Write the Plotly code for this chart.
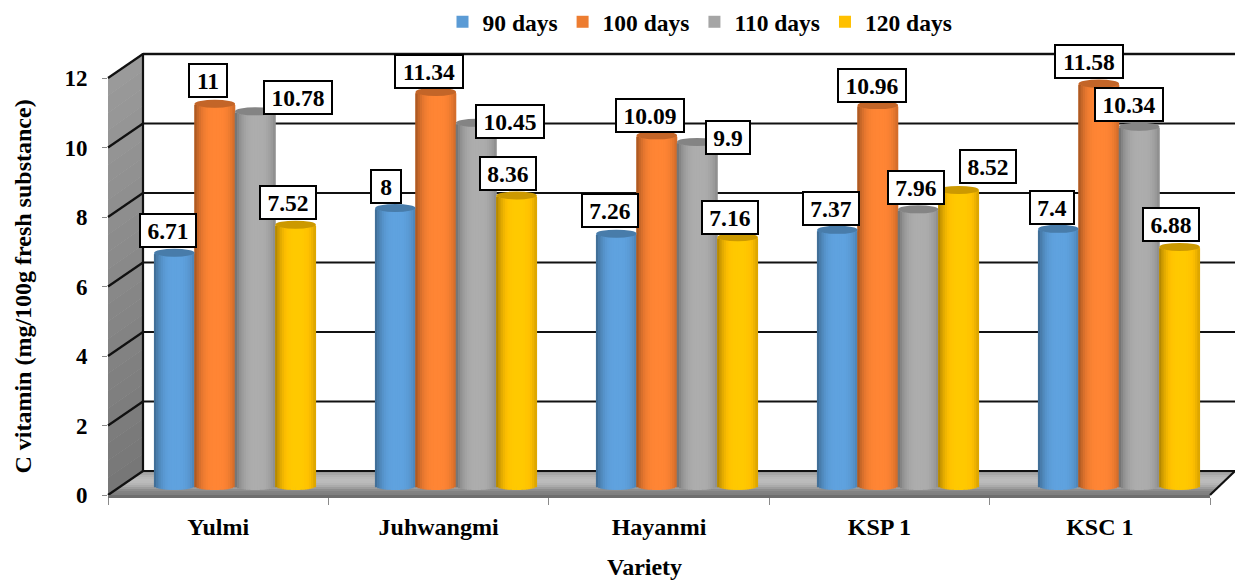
import math
import plotly.graph_objects as go

varieties = ["Yulmi", "Juhwangmi", "Hayanmi", "KSP 1", "KSC 1"]
series_names = ["90 days", "100 days", "110 days", "120 days"]
days_90 = [6.71, 8, 7.26, 7.37, 7.4]
days_100 = [11, 11.34, 10.09, 10.96, 11.58]
days_110 = [10.78, 10.45, 9.9, 7.96, 10.34]
days_120 = [7.52, 8.36, 7.16, 8.52, 6.88]
series_values = [days_90, days_100, days_110, days_120]
series_colors = ["#5B9BD5", "#F47F32", "#A5A5A5", "#FFC000"]
value_labels = [
    ["6.71", "8", "7.26", "7.37", "7.4"],
    ["11", "11.34", "10.09", "10.96", "11.58"],
    ["10.78", "10.45", "9.9", "7.96", "10.34"],
    ["7.52", "8.36", "7.16", "8.52", "6.88"],
]
label_shift_x = [
    [-6, -9, -6, -6, -6],
    [-7, -7, -7, -6, -10],
    [43, 34, 31, -2, -10],
    [-8, -9, -8, 29, -9],
]
label_shift_y = [
    [22, 21, 23, 21, 21],
    [23, 20, 20, 20, 22],
    [14, 1, 4, 22, 22],
    [22, 22, 20, 23, 22],
]
box_width_by_chars = {1: 32, 2: 40, 3: 46, 4: 58, 5: 70}
y_ticks = [0, 2, 4, 6, 8, 10, 12]

FONT = "Liberation Serif"
W, H = 1235, 580
L, T, PW, PH = 108, 78, 1127, 417
UNIT = PH / 12
BAR_W = 40.4 / 221
CAP_RY = 4.0
N_STRIPS = 18
SHIFT = 0.26


def X(px):
    return (px - L) / PW


def Y(py):
    return (T + PH - py) / PH


def shade(color, f):
    r, g, b = int(color[1:3], 16), int(color[3:5], 16), int(color[5:7], 16)
    return "rgb(%d,%d,%d)" % (min(255, r * f), min(255, g * f), min(255, b * f))


def poly(points, fill):
    path = "M" + " L".join(f"{X(a):.5f},{Y(b):.5f}" for a, b in points) + " Z"
    return dict(type="path", xref="paper", yref="paper", path=path,
                fillcolor=fill, line=dict(width=0), layer="below")


def seg(x0, y0, x1, y1, color="#111111", width=2.2):
    return dict(type="line", xref="paper", yref="paper", x0=X(x0), y0=Y(y0), x1=X(x1), y1=Y(y1),
                line=dict(color=color, width=width), layer="below")


shapes = []
# side wall
bands = 24
for b in range(bands):
    t0, t1 = b / bands, (b + 1) / bands
    g = int(154 - 36 * t0)
    col = f"rgb({g},{g},{g})"
    shapes.append(poly([(108, 78 + 417 * t0), (143, 53 + 418 * t0), (143, 53 + 418 * t1 + 0.5), (108, 78 + 417 * t1 + 0.5)], col))
# floor
bands = 12
for b in range(bands):
    t0, t1 = b / bands, (b + 1) / bands
    g = int(155 + 45 * math.sin(math.pi * min(1, t0 * 1.25)) - 30 * t0)
    col = f"rgb({g},{g},{g})"
    y0, y1 = 471 + 24 * t0, 471 + 24 * t1 + 0.5
    x_l0, x_l1 = 143 - 35 * t0, 143 - 35 * t1
    x_r0, x_r1 = 1235 - 25 * t0, 1235 - 25 * t1
    shapes.append(poly([(x_l0, y0), (x_r0, y0), (x_r1, y1), (x_l1, y1)], col))
# grid on wall and back plane
for v in y_ticks:
    fy = 495 - v * UNIT
    shapes.append(seg(108, fy, 143, fy - 24))
    shapes.append(seg(143, fy - 24, 1235, fy - 24, color="#c8c8c8" if v == 12 else "#111111", width=4 if v == 12 else 2.2))
    if v == 12:
        shapes.append(seg(143, fy - 24, 1235, fy - 24, width=2.2))
shapes.append(seg(143, 53, 143, 471))
shapes.append(seg(1210, 495, 1235, 471))

traces = [go.Scatter(x=varieties, y=[0] * 5, mode="markers", marker=dict(opacity=0),
                     showlegend=False, hoverinfo="skip", xaxis="x", yaxis="y")]

annotations = []
for i, (name, vals, color) in enumerate(zip(series_names, series_values, series_colors)):
    centers = [k + (i - 1.5) * BAR_W for k in range(5)]
    traces.append(go.Bar(x=centers, y=vals, width=BAR_W, name=name,
                         marker=dict(color=color if i != 1 else "#ED7D31", line=dict(width=0)),
                         xaxis="x2", yaxis="y2", cliponaxis=False, hoverinfo="skip"))
    for s in range(N_STRIPS):
        t = -1 + (2 * s + 1) / N_STRIPS
        u = (t - 0.1) / 1.1
        f = 0.66 + 0.39 * max(0.0, 1 - abs(u) ** 3)
        arc = CAP_RY / UNIT * math.sqrt(max(0.0, 1 - t * t))
        traces.append(go.Bar(
            x=[c + t * BAR_W / 2 for c in centers], y=vals,
            base=[-arc] * 5,
            width=BAR_W / N_STRIPS * 1.25,
            marker=dict(color=shade(color, f), line=dict(width=0)),
            showlegend=False, xaxis="x2", yaxis="y2", cliponaxis=False, hoverinfo="skip"))
    for k, v in enumerate(vals):
        shapes.append(dict(type="circle", xref="x2", yref="y2",
                           x0=centers[k] - BAR_W / 2, x1=centers[k] + BAR_W / 2,
                           y0=v - CAP_RY / UNIT, y1=v + CAP_RY / UNIT,
                           fillcolor=shade(color, 0.8), line=dict(width=0), layer="above"))
        text = value_labels[i][k]
        annotations.append(dict(
            x=centers[k], y=v, xref="x2", yref="y2", text=f"<b>{text}</b>", showarrow=False,
            xshift=label_shift_x[i][k], yshift=label_shift_y[i][k],
            width=box_width_by_chars[len(text)] - 8, height=27,
            bgcolor="white", bordercolor="black", borderwidth=2, borderpad=2,
            font=dict(family=FONT, size=23.5, color="black")))

annotations.append(dict(x=X(644), y=Y(567), xref="paper", yref="paper", xanchor="center", yanchor="middle",
                        text="<b>Variety</b>", showarrow=False,
                        font=dict(family=FONT, size=24, color="black")))

fig = go.Figure(traces)
fig.update_layout(
    width=W, height=H, autosize=False, paper_bgcolor="white", plot_bgcolor="rgba(0,0,0,0)",
    margin=dict(l=L, r=0, t=T, b=H - T - PH),
    barmode="overlay", shapes=shapes, annotations=annotations, hovermode=False,
    font=dict(family=FONT, color="black"),
    legend=dict(orientation="h", x=700 / W, xref="container", xanchor="center", y=1, yref="container", yanchor="top",
                font=dict(family=FONT, size=23.5, weight="bold", color="black"),
                itemwidth=30, tracegroupgap=0, bgcolor="rgba(0,0,0,0)"),
    xaxis=dict(type="category", categoryorder="array", categoryarray=varieties, domain=[0, 1102 / PW],
               range=[-0.5, 4.5], tickson="boundaries", ticks="outside", ticklen=7, tickcolor="#8a8a8a",
               showgrid=False, showline=True, linecolor="#6e6e6e", linewidth=3, zeroline=False,
               tickfont=dict(family=FONT, size=24, weight="bold", color="black"), ticklabelstandoff=8),
    yaxis=dict(range=[0, 12], tickvals=y_ticks, ticks="outside", ticklen=5, tickcolor="#8a8a8a",
               showgrid=False, showline=False, zeroline=False,
               tickfont=dict(family=FONT, size=23, weight="bold", color="black"), ticklabelstandoff=10,
               title=dict(text="<b>C vitamin (mg/100g fresh substance)</b>", standoff=26,
                          font=dict(family=FONT, size=24, color="black"))),
    xaxis2=dict(overlaying="x", anchor="y2", range=[(108 - 235) / 221, (1210 - 235) / 221], visible=False),
    yaxis2=dict(overlaying="y", anchor="x2", range=[-SHIFT, 12 - SHIFT], visible=False),
)
fig.write_html("out.html", post_script="document.body.style.margin='0';", config=dict(displayModeBar=False))
